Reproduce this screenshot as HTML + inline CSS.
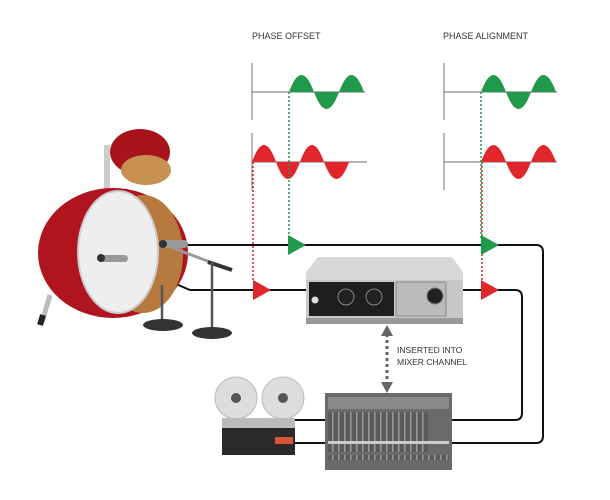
<!DOCTYPE html>
<html><head><style>body{margin:0;background:#fff}svg{display:block}text{font-family:"Liberation Sans",sans-serif;fill:#333}</style></head>
<body>
<svg width="610" height="500" viewBox="0 0 610 500">
<defs>
<pattern id="sl" width="6" height="6" patternUnits="userSpaceOnUse"><rect width="6" height="6" fill="#5a5a5a"/><rect x="2" width="1.5" height="6" fill="#9a9a9a"/></pattern>
</defs>
<text x="252" y="39" font-size="9">PHASE OFFSET</text>
<text x="443" y="39" font-size="9">PHASE ALIGNMENT</text>
<g stroke="#888" stroke-width="1.2" fill="none">
<path d="M252 63V120M252 92H365M252 133V190M252 162H367"/>
<path d="M444 63V120M444 92H557M444 133V190M444 162H557"/>
</g>
<path d="M289 92 Q301.5 58 314 92 Q326.5 126 339 92 Q351.5 58 364 92Z" fill="#1f9a4b"/>
<path d="M481 92 Q493.5 58 506 92 Q518.5 126 531 92 Q543.5 58 556 92Z" fill="#1f9a4b"/>
<path d="M252 162 Q264 128 276 162 Q288 196 300 162 Q312 128 324 162 Q336.5 196 349 162Z" fill="#e0262b"/>
<path d="M481 162 Q493.5 128 506 162 Q518.5 196 531 162 Q543.5 128 556 162Z" fill="#e0262b"/>
<g stroke-width="1.5" stroke-dasharray="2,2" fill="none">
<path d="M289 92V238M481 92V238" stroke="#1f9a4b"/>
<path d="M253 162V282M482 162V282" stroke="#d0262b"/>
</g>
<g stroke="#111" stroke-width="2" fill="none">
<path d="M185 245H536Q543 245 543 252V436Q543 443 536 443H452"/>
<path d="M125 262L190 290H306M463 290H515Q522 290 522 297V413Q522 420 515 420H452"/>
<path d="M290 420H325M290 443H325"/>
</g>
<path d="M288 235L306 245L288 255Z" fill="#1f9a4b"/>
<path d="M481 235L499 245L481 255Z" fill="#1f9a4b"/>
<path d="M253 280L271 290L253 300Z" fill="#e0262b"/>
<path d="M481 280L499 290L481 300Z" fill="#e0262b"/>
<!-- drum -->
<rect x="104" y="145" width="6" height="50" fill="#ccc"/>
<ellipse cx="140" cy="152" rx="30" ry="23" fill="#a8141c"/>
<ellipse cx="146" cy="170" rx="25" ry="15" fill="#c89152"/>
<ellipse cx="113" cy="253" rx="75" ry="65" fill="#b0141e"/>
<ellipse cx="143" cy="254" rx="40" ry="59" fill="#b67a3e"/>
<ellipse cx="118" cy="252" rx="40" ry="61" fill="#eeeeee" stroke="#ccc" stroke-width="2"/>
<path d="M50 295L42 322" stroke="#bbb" stroke-width="5"/>
<path d="M43 315L40 325" stroke="#222" stroke-width="6"/>
<path d="M165 245L210 262" stroke="#999" stroke-width="3"/><rect x="160" y="240" width="28" height="8" rx="4" fill="#999"/><circle cx="163" cy="244" r="4" fill="#333"/>
<path d="M208 262L232 270" stroke="#333" stroke-width="4"/>
<path d="M212 262V330M162 285V322" stroke="#555" stroke-width="2.5"/>
<ellipse cx="212" cy="333" rx="20" ry="6" fill="#333"/>
<ellipse cx="163" cy="325" rx="20" ry="6" fill="#333"/>
<rect x="98" y="255" width="30" height="7" rx="3.5" fill="#999"/><circle cx="101" cy="258" r="4" fill="#333"/>
<!-- preamp -->
<path d="M318 257H452L463 272V318H306V272Z" fill="#d8d8d8"/>
<rect x="306" y="280" width="157" height="38" fill="#c8c8c8"/>
<rect x="309" y="282" width="85" height="34" fill="#1e1e1e"/>
<rect x="396" y="282" width="50" height="34" fill="#bbb" stroke="#888"/>
<circle cx="346" cy="297" r="8" fill="#222" stroke="#888"/>
<circle cx="374" cy="297" r="8" fill="#222" stroke="#888"/>
<circle cx="435" cy="296" r="8" fill="#222" stroke="#777"/>
<circle cx="315" cy="300" r="3.5" fill="#ddd"/>
<rect x="306" y="318" width="157" height="6" fill="#999"/>
<path d="M387 334V384" stroke="#666" stroke-width="3" stroke-dasharray="3,3"/>
<path d="M381 336L387 325L393 336Z M381 382L387 393L393 382Z" fill="#666"/>
<text x="397" y="353" font-size="8.5">INSERTED INTO</text>
<text x="397" y="365" font-size="8.5">MIXER CHANNEL</text>
<rect x="325" y="393" width="127" height="77" fill="#6a6a6a"/>
<rect x="328" y="397" width="121" height="12" fill="#8a8a8a"/>
<rect x="328" y="412" width="100" height="40" fill="url(#sl)"/>
<rect x="328" y="441" width="121" height="3" fill="#ccc"/>
<rect x="328" y="455" width="121" height="5" fill="url(#sl)"/>
<circle cx="236" cy="398" r="21" fill="#ddd" stroke="#bbb"/><circle cx="236" cy="398" r="5" fill="#555"/>
<circle cx="283" cy="398" r="21" fill="#ddd" stroke="#bbb"/><circle cx="283" cy="398" r="5" fill="#555"/>
<rect x="222" y="418" width="73" height="10" fill="#bbb"/>
<rect x="222" y="428" width="73" height="27" fill="#2a2a2a"/>
<rect x="275" y="437" width="18" height="7" fill="#d8553a"/>
</svg>
</body></html>
